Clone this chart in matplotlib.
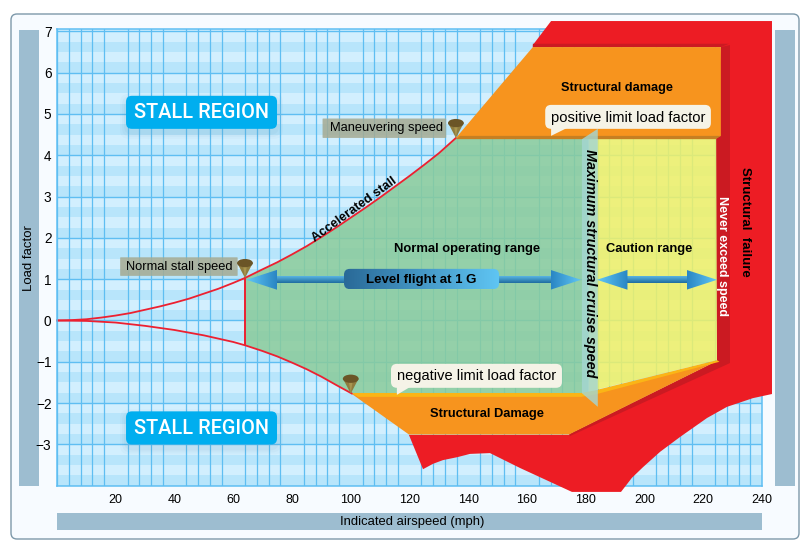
# Load factor vs airspeed (V-g) diagram
import numpy as np
import matplotlib
matplotlib.use('Agg')
import matplotlib.pyplot as plt
from matplotlib.patches import Polygon, FancyBboxPatch, Ellipse, Rectangle

plt.rcParams['font.family'] = ['Liberation Sans', 'DejaVu Sans']

# tick labels
x_ticks = [20, 40, 60, 80, 100, 120, 140, 160, 180, 200, 220, 240]
y_ticks = [-3, -2, -1, 0, 1, 2, 3, 4, 5, 6, 7]
y_labels = ['\u22123', '\u22122', '\u22121', '0', '1', '2', '3', '4', '5', '6', '7']

# stall curves
upper_speed = [0, 5, 10, 15, 20, 25, 30, 35, 40, 45, 50, 55, 60, 64, 70, 75, 80, 85, 90, 95,
               100, 105, 110, 115, 120, 125, 130, 135.8]
upper_load = [0, 0.01, 0.03, 0.07, 0.12, 0.18, 0.26, 0.34, 0.43, 0.53, 0.65, 0.77, 0.91, 1.03,
              1.24, 1.41, 1.6, 1.8, 2.02, 2.25, 2.49, 2.73, 2.98, 3.24, 3.5, 3.77, 4.05, 4.42]
lower_speed = [0, 10, 20, 30, 40, 50, 60, 64, 70, 75, 80, 85, 90, 95, 100.4]
lower_load = [0, -0.01, -0.05, -0.13, -0.23, -0.36, -0.52, -0.6, -0.74, -0.87, -1.02, -1.18,
              -1.36, -1.56, -1.77]

# envelope outlines (mph, G)
red_x = [162, 168.2, 243.4, 243.4, 236.9, 228.1, 221.3, 212.1, 205.3, 199.5, 195.7, 192,
         175.3, 157.6, 147.4, 140.6, 136.2, 131.4, 128, 124.6, 119.8, 174.3, 224.7, 224.7, 226, 162]
red_y = [6.67, 7.25, 7.25, -1.78, -1.88, -2.09, -2.36, -2.82, -3.18, -3.55, -3.81, -4.15,
         -4.15, -3.57, -3.21, -3.23, -3.31, -3.38, -3.47, -3.6, -2.77, -2.77, -0.98, 4.42, 6.62, 6.62]
side_x = [224.4, 226, 229.1, 229.1, 174.6, 174.3, 224.7]
side_y = [4.42, 6.62, 6.67, -1.03, -2.8, -2.75, -0.98]
lip_x = [162, 228.8, 226, 162]
lip_y = [6.7, 6.7, 6.62, 6.62]
top_damage_x = [135.8, 162, 226, 226, 224.3]
top_damage_y = [4.42, 6.62, 6.62, 4.47, 4.41]
top_edge_x = [137.2, 226, 224.3, 135.8]
top_edge_y = [4.47, 4.47, 4.39, 4.39]
low_damage_x = [100.4, 178.4, 183.8, 224.7, 174.3, 119.8]
low_damage_y = [-1.78, -1.8, -1.72, -0.98, -2.76, -2.76]
low_edge_x = [100.4, 178.4, 183.8, 224.7, 225.5, 183.8, 178.4, 102.5]
low_edge_y = [-1.755, -1.755, -1.68, -0.96, -1.0, -1.78, -1.85, -1.85]
caution_x = [181, 224.7, 224.7, 181]
caution_y = [4.4, 4.4, -0.96, -1.72]
cruise_bar_x = [178.7, 184.1, 184.1, 178.7]
cruise_bar_y = [4.39, 4.64, -2.09, -1.76]

# level flight arrows and pins
arrow_from = [64.5, 183.8]
arrow_to = [178.4, 224.7]
pin_x = [64, 100, 135.8]
pin_y = [1.03, -1.77, 4.42]

PX_X = 2.9375   # px per mph
PX_Y = 41.3     # px per G
ASPECT = PX_X / PX_Y

fig = plt.figure(figsize=(8.07, 5.47), dpi=100, facecolor='white')

# background card and the grey-blue bars, in pixels
bg = fig.add_axes([0, 0, 1, 1], zorder=0)
bg.set_xlim(0, 807)
bg.set_ylim(547, 0)
bg.axis('off')
bg.add_patch(FancyBboxPatch((11, 14), 788, 525, boxstyle='round,pad=0,rounding_size=6',
                            fc='#f7fbff', ec='#7d99aa', lw=1.0))
bar_blue = '#9dbdd0'
bg.add_patch(Rectangle((18.5, 29.5), 20.5, 456.5, fc=bar_blue, ec='none'))
bg.add_patch(Rectangle((774.5, 29.5), 20.5, 456.5, fc=bar_blue, ec='none'))
bg.add_patch(Rectangle((57, 513), 705, 17, fc=bar_blue, ec='none'))
bg.text(28.5, 258, 'Load factor', rotation=90, ha='center', va='center', fontsize=9.5)
bg.text(412, 521.5, 'Indicated airspeed (mph)', ha='center', va='center', fontsize=9.4)

ax = fig.add_axes([57 / 807, 1 - 486 / 547, 705 / 807, 456.7 / 547], zorder=1)
ax.patch.set_alpha(0)
ax.set_xlim(0, 240)
ax.set_ylim(-4.007, 7.05)

# pale horizontal bands
for i, low in enumerate(np.arange(-4.25, 7.0, 0.25)):
    col = '#d2effe' if i % 2 == 0 else '#b8e5fb'
    ax.axhspan(low, low + 0.25, color=col, lw=0, zorder=0)
ax.axhspan(7.0, 7.05, color='#d2effe', lw=0, zorder=0)

ax.set_xticks(x_ticks)
ax.set_xticks(np.arange(0, 241, 4), minor=True)
ax.set_yticks(y_ticks, y_labels)
ax.set_axisbelow(True)
ax.grid(True, which='major', axis='y', color='#5fbef2', lw=1.0, zorder=0.5)
ax.grid(True, which='minor', axis='x', color='#5fbef2', lw=0.9, zorder=0.5)
ax.tick_params(which='both', length=0)
ax.tick_params(axis='x', pad=6, labelsize=9)
ax.tick_params(axis='y', pad=4, labelsize=9.8)
for s in ax.spines.values():
    s.set_color('#5fbef2')
    s.set_linewidth(1.1)


def poly(xs, ys, col, z, alpha=None):
    ax.add_patch(Polygon(np.column_stack([xs, ys]), closed=True, fc=col, ec='none',
                         alpha=alpha, zorder=z, clip_on=False))


def gradient(extent, c0, c1, z, clip, vertical=False):
    # linear colour ramp clipped to a patch
    a = np.array(matplotlib.colors.to_rgb(c0))
    b = np.array(matplotlib.colors.to_rgb(c1))
    t = np.linspace(0, 1, 64)[:, None] * (b - a) + a
    img = t[:, None, :] if vertical else t[None, :, :]
    im = ax.imshow(img, extent=extent, aspect='auto', zorder=z, interpolation='bilinear',
                   origin='upper', clip_on=True)
    clip.set_transform(ax.transData)
    im.set_clip_path(clip)


def box(x0, x1, y0, y1, col, z, r=2.0, alpha=None):
    ax.add_patch(FancyBboxPatch((x0, y0), x1 - x0, y1 - y0,
                                boxstyle=f'round,pad=0,rounding_size={r}',
                                mutation_aspect=ASPECT, fc=col, ec='none',
                                alpha=alpha, zorder=z, clip_on=False))


# normal operating range and caution range
up = [(x, y) for x, y in zip(upper_speed, upper_load) if x >= 64]
down = [(x, y) for x, y in zip(lower_speed, lower_load) if x >= 64][::-1]
green_x = [p[0] for p in up] + [181, 181] + [p[0] for p in down]
green_y = [p[1] for p in up] + [4.4, -1.76] + [p[1] for p in down]
poly(green_x, green_y, '#8acb9a', 1, alpha=0.85)
poly(caution_x, caution_y, '#f2f165', 1, alpha=0.85)

# damage and failure areas
poly(red_x, red_y, '#ed1c24', 3)
poly(side_x, side_y, '#cb1a22', 3.1)
poly(lip_x, lip_y, '#cb1a22', 3.1)
poly(top_damage_x, top_damage_y, '#f7941e', 3.2)
poly(top_edge_x, top_edge_y, '#c67f22', 3.3)
poly(low_damage_x, low_damage_y, '#f7941e', 3.2)
poly(low_edge_x, low_edge_y, '#fbb516', 3.3)
poly(cruise_bar_x, cruise_bar_y, '#a4d6d2', 3.5, alpha=0.82)

# stall curves
ax.plot(upper_speed, upper_load, color='#ed2030', lw=1.3, zorder=2.5, clip_on=False)
ax.plot(lower_speed, lower_load, color='#ed2030', lw=1.3, zorder=2.5, clip_on=False)
ax.plot([64, 64], [1.03, -0.6], color='#ed2030', lw=1.4, zorder=2.5)

# double arrows at 1 G
shaft = 0.085
head_h = 0.24
head_l = 10.4
level = 0.985
for a, b in zip(arrow_from, arrow_to):
    r = Rectangle((a + 5, level - shaft), b - a - 10, 2 * shaft, fc='none', ec='none')
    gradient([a, b, level - shaft, level + shaft], '#62bfec', '#1f6da0', 4, r, vertical=True)
    for tip, base in ((a, a + head_l), (b, b - head_l)):
        h = Polygon([[tip, level], [base, level + head_h], [base, level - head_h]], fc='none', ec='none')
        lo, hi = min(tip, base), max(tip, base)
        c0, c1 = ('#62c8f6', '#2a86c4') if tip < base else ('#2a86c4', '#62c8f6')
        gradient([lo, hi, level - head_h, level + head_h], c0, c1, 4.1, h)

level_box = FancyBboxPatch((97.7, 0.76), 52.8, 0.49, boxstyle='round,pad=0,rounding_size=2',
                           mutation_aspect=ASPECT, fc='none', ec='none')
gradient([97.7, 150.5, 0.76, 1.25], '#2a6a98', '#5fc5f3', 4.2, level_box)
ax.set_xlim(0, 240)
ax.set_ylim(-4.007, 7.05)

# grey speed labels
box(90.4, 132.5, 4.42, 4.89, '#a5aa92', 4.3, r=0.2, alpha=0.85)
box(21.5, 61.5, 1.08, 1.53, '#a5aa92', 4.3, r=0.2, alpha=0.85)

# pins
for px, py in zip(pin_x, pin_y):
    poly([px, px - 2.65, px + 2.65], [py, py + 0.36, py + 0.36], '#8f7c3e', 4.5)
    poly([px, px - 0.8, px + 0.8], [py, py + 0.36, py + 0.36], '#a8954f', 4.55)
    ax.add_patch(Ellipse((px, py + 0.36), 5.4, 0.2, fc='#6b5527', ec='none', zorder=4.6, clip_on=False))

# callouts
box(166.2, 222.6, 4.64, 5.22, '#f5f3e7', 5, r=2)
poly([168.2, 168.2, 173.6], [4.66, 4.47, 4.66], '#f5f3e7', 5)
box(113.7, 171.9, -1.63, -1.05, '#f5f3e7', 5, r=2)
poly([115.7, 115.7, 120.2], [-1.61, -1.8, -1.61], '#f5f3e7', 5)

# stall region badges with a soft shadow
for y0, y1 in ((4.64, 5.44), (-3.0, -2.2)):
    for grow, a in ((6, 0.03), (4, 0.04), (2, 0.05)):
        box(23.5 - grow / PX_X, 74.9 + grow / PX_X, y0 - (grow + 4) / PX_Y, y1 + (grow - 4) / PX_Y,
            '#4a7fa0', 2.8, r=3, alpha=a)
    box(23.5, 74.9, y0, y1, '#00aeef', 5, r=2)
    ax.text(49.2, (y0 + y1) / 2 - 0.01, 'STALL REGION', color='white', fontsize=14.3, fontweight='medium',
            family='Roboto', ha='center', va='center', zorder=6)

# labels
lab = dict(ha='center', va='center', zorder=6, clip_on=False)
ax.text(112.3, 4.65, 'Maneuvering speed', fontsize=9.3, **lab)
ax.text(41.5, 1.3, 'Normal stall speed', fontsize=9.3, **lab)
ax.text(194.5, 4.91, 'positive limit load factor', fontsize=10.6, **lab)
ax.text(142.8, -1.34, 'negative limit load factor', fontsize=10.5, **lab)
ax.text(190.7, 5.62, 'Structural damage', fontsize=9.2, fontweight='bold', **lab)
ax.text(146.3, -2.27, 'Structural Damage', fontsize=9.3, fontweight='bold', **lab)
ax.text(139.5, 1.73, 'Normal operating range', fontsize=9.4, fontweight='bold', **lab)
ax.text(201.5, 1.73, 'Caution range', fontsize=9.3, fontweight='bold', **lab)
ax.text(124.1, 0.98, 'Level flight at 1 G', fontsize=9.5, fontweight='bold', **lab)
ax.text(101.3, 2.69, 'Accelerated stall', fontsize=9.2, fontweight='bold', rotation=36, **lab)
ax.text(181.6, 1.39, 'Maximum structural cruise speed', fontsize=10.4, fontweight='bold',
        fontstyle='italic', rotation=-90, **lab)
ax.text(226.4, 1.55, 'Never exceed speed', fontsize=9, fontweight='bold', color='white', rotation=-90, **lab)
ax.text(234.3, 2.38, 'Structural  failure', fontsize=9.5, fontweight='bold', rotation=-90, **lab)

fig.savefig('out.png', dpi=100)
